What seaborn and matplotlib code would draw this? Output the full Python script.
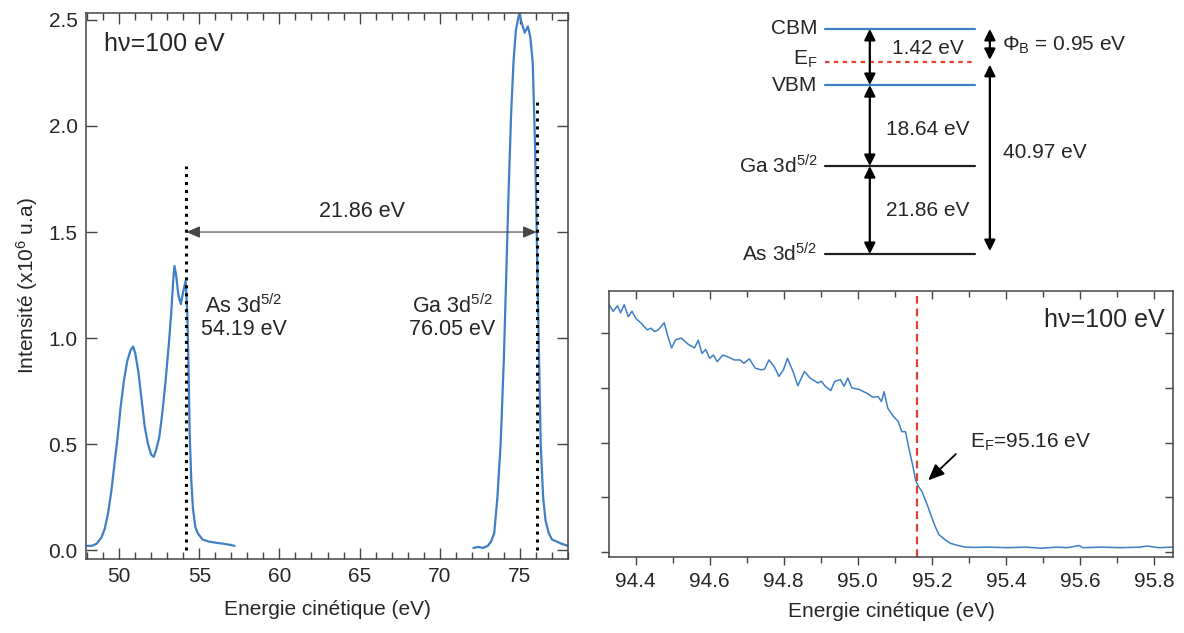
import matplotlib
matplotlib.use("Agg")
import matplotlib.pyplot as plt
from matplotlib.ticker import MultipleLocator, NullFormatter, FormatStrFormatter
import seaborn as sns

# --- data ---
# As 3d core level (left panel)
as_energy = [48.0, 48.3, 48.6, 48.9, 49.1, 49.3, 49.5, 49.7, 49.9, 50.1, 50.3, 50.5,
             50.7, 50.87, 51.0, 51.2, 51.4, 51.6, 51.8, 52.0, 52.16, 52.3, 52.5, 52.7,
             52.9, 53.1, 53.25, 53.38, 53.45, 53.55, 53.7, 53.85, 54.0, 54.15, 54.25,
             54.32, 54.4, 54.5, 54.6, 54.75, 54.9, 55.2, 55.6, 56.0, 56.5, 56.9, 57.2]
as_intensity = [0.02, 0.02, 0.03, 0.06, 0.10, 0.17, 0.27, 0.40, 0.53, 0.68, 0.80, 0.89,
                0.94, 0.96, 0.93, 0.84, 0.71, 0.58, 0.50, 0.45, 0.44, 0.47, 0.53, 0.65,
                0.80, 0.97, 1.12, 1.28, 1.34, 1.30, 1.20, 1.16, 1.22, 1.27, 1.12,
                0.90, 0.55, 0.33, 0.20, 0.11, 0.08, 0.05, 0.04, 0.035, 0.03, 0.025, 0.02]

# Ga 3d core level (left panel)
ga_energy = [72.1, 72.4, 72.7, 73.0, 73.2, 73.4, 73.6, 73.8, 74.0, 74.15, 74.3, 74.45,
             74.6, 74.75, 74.9, 74.97, 75.1, 75.3, 75.5, 75.65, 75.8, 75.95, 76.07,
             76.17, 76.3, 76.45, 76.6, 76.8, 77.0, 77.3, 77.6, 78.0]
ga_intensity = [0.01, 0.015, 0.01, 0.02, 0.04, 0.08, 0.25, 0.50, 0.90, 1.30, 1.70, 2.05,
                2.30, 2.45, 2.51, 2.53, 2.49, 2.44, 2.47, 2.42, 2.30, 1.90, 1.42,
                1.00, 0.50, 0.25, 0.14, 0.08, 0.05, 0.04, 0.03, 0.02]

as_peak = 54.19
ga_peak = 76.05
core_split = 21.86

# Fermi edge (bottom right panel), arbitrary units
fermi_energy = [94.328, 94.339, 94.351, 94.359, 94.369, 94.380, 94.390, 94.400, 94.415,
                94.431, 94.441, 94.451, 94.461, 94.477, 94.487, 94.497, 94.508, 94.523,
                94.533, 94.543, 94.559, 94.569, 94.579, 94.589, 94.600, 94.610, 94.620,
                94.636, 94.651, 94.666, 94.682, 94.692, 94.707, 94.723, 94.738, 94.748,
                94.760, 94.774, 94.787, 94.799, 94.810, 94.825, 94.838, 94.856, 94.871,
                94.892, 94.902, 94.912, 94.927, 94.938, 94.953, 94.963, 94.973, 94.984,
                95.004, 95.025, 95.040, 95.055, 95.064, 95.071, 95.081, 95.096, 95.109,
                95.119, 95.129, 95.137, 95.148, 95.156, 95.163, 95.173, 95.188, 95.199,
                95.209, 95.219, 95.235, 95.250, 95.270, 95.291, 95.311, 95.352, 95.404,
                95.455, 95.496, 95.537, 95.567, 95.598, 95.608, 95.660, 95.711, 95.762,
                95.782, 95.813, 95.850]
fermi_intensity = [4.52, 4.40, 4.50, 4.37, 4.52, 4.30, 4.40, 4.27, 4.18,
                   4.06, 4.09, 4.03, 4.06, 4.19, 3.94, 3.73, 3.88, 3.91,
                   3.85, 3.79, 3.73, 3.87, 3.63, 3.70, 3.54, 3.60, 3.48,
                   3.60, 3.56, 3.51, 3.51, 3.45, 3.53, 3.36, 3.33, 3.34,
                   3.51, 3.39, 3.21, 3.33, 3.54, 3.30, 3.04, 3.30, 3.18,
                   3.09, 3.12, 3.03, 2.95, 3.12, 3.15, 3.03, 3.18, 3.00,
                   2.97, 2.90, 2.83, 2.84, 2.75, 2.93, 2.63, 2.48, 2.39,
                   2.20, 2.20, 1.93, 1.60, 1.32, 1.21, 1.11, 0.86, 0.65,
                   0.47, 0.32, 0.23, 0.16, 0.12, 0.09, 0.085, 0.09, 0.08,
                   0.09, 0.07, 0.09, 0.08, 0.12, 0.08, 0.09, 0.08, 0.09,
                   0.11, 0.08, 0.09]
fermi_level = 95.16

# band diagram
levels = ["CBM", "E$_\\mathregular{F}$", "VBM", "Ga 3d$^{\\mathregular{5/2}}$", "As 3d$^{\\mathregular{5/2}}$"]
gap_labels = ["1.42 eV", "18.64 eV", "21.86 eV"]
barrier_label = "Φ$_\\mathregular{B}$ = 0.95 eV"
total_label = "40.97 eV"

# --- style ---
sns.set_style("ticks")
plt.rcParams["font.family"] = ["Liberation Sans", "DejaVu Sans"]
plt.rcParams["mathtext.fontset"] = "custom"
plt.rcParams["mathtext.rm"] = "Liberation Sans"
plt.rcParams["mathtext.it"] = "Liberation Sans:italic"
plt.rcParams["axes.edgecolor"] = "#444444"
plt.rcParams["axes.linewidth"] = 1.1

blue = "#3f7fc6"
red = "#e2402c"
fs = 15

fig = plt.figure(figsize=(11.84, 6.33), dpi=100)

# ---------------- left panel ----------------
ax = fig.add_axes([0.0726, 0.1169, 0.4071, 0.8626])
sns.lineplot(x=as_energy, y=as_intensity, ax=ax, color=blue, lw=1.6,
             estimator=None, sort=False)
sns.lineplot(x=ga_energy, y=ga_intensity, ax=ax, color=blue, lw=1.6,
             estimator=None, sort=False)
ax.plot([as_peak, as_peak], [0, 1.81], color="black", lw=2.2, ls=(0, (1, 1.6)))
ax.plot([ga_peak, ga_peak], [0, 2.13], color="black", lw=2.2, ls=(0, (1, 1.6)))
ax.annotate("", xy=(as_peak, 1.5), xytext=(ga_peak, 1.5),
            arrowprops=dict(arrowstyle="<|-|>,head_length=0.7,head_width=0.3",
                            color="#444444", lw=0.8, shrinkA=0, shrinkB=0,
                            mutation_scale=12))
ax.text((as_peak + ga_peak) / 2, 1.545, f"{core_split:.2f} eV", ha="center",
        va="bottom", fontsize=fs + 0.5)
ax.text(57.8, 0.99, "As 3d$^{\\mathregular{5/2}}$\n" + f"{as_peak:.2f} eV",
        ha="center", va="bottom", fontsize=fs + 0.5, linespacing=1.1)
ax.text(70.8, 0.99, "Ga 3d$^{\\mathregular{5/2}}$\n" + f"{ga_peak:.2f} eV",
        ha="center", va="bottom", fontsize=fs + 0.5, linespacing=1.1)
ax.text(49.05, 2.385, "hν=100 eV", ha="left", va="center", fontsize=18)

ax.set_xlim(47.93, 78.0)
ax.set_ylim(-0.042, 2.533)
ax.xaxis.set_major_locator(MultipleLocator(5))
ax.xaxis.set_minor_locator(MultipleLocator(1))
ax.yaxis.set_major_locator(MultipleLocator(0.5))
ax.yaxis.set_major_formatter(FormatStrFormatter("%.1f"))
ax.tick_params(which="both", direction="in", top=True, right=True,
               labelsize=fs, color="#444444", pad=6)
ax.tick_params(which="major", length=8, width=1)
ax.tick_params(which="minor", length=5, width=1)
ax.set_xlabel("Energie cinétique (eV)", fontsize=fs, labelpad=10)
ax.set_ylabel("Intensité (x10$^{\\mathregular{6}}$ u.a)", fontsize=fs, labelpad=6)

# ---------------- bottom right panel ----------------
bx = fig.add_axes([0.5144, 0.1201, 0.4764, 0.4202])
sns.lineplot(x=fermi_energy, y=fermi_intensity, ax=bx, color=blue, lw=1.1,
             estimator=None, sort=False)
bx.axvline(fermi_level, color=red, lw=1.6, ls=(0, (3.5, 2.2)))
bx.annotate("", xy=(95.19, 1.31), xytext=(95.265, 1.79),
            arrowprops=dict(arrowstyle="-|>,head_length=0.7,head_width=0.3",
                            color="black", lw=1.3, shrinkA=0, shrinkB=0,
                            mutation_scale=14))
bx.text(95.303, 2.0, "E$_\\mathregular{F}$=" + f"{fermi_level:.2f} eV",
        ha="left", va="center", fontsize=fs)
bx.text(95.83, 4.24, "hν=100 eV", ha="right", va="center", fontsize=18)
bx.set_xlim(94.328, 95.852)
bx.set_ylim(-0.09, 4.77)
bx.xaxis.set_major_locator(MultipleLocator(0.2))
bx.xaxis.set_minor_locator(MultipleLocator(0.1))
bx.xaxis.set_major_formatter(FormatStrFormatter("%.1f"))
bx.yaxis.set_major_locator(MultipleLocator(1))
bx.yaxis.set_major_formatter(NullFormatter())
bx.tick_params(which="both", direction="out", labelsize=fs, color="#444444", pad=5)
bx.tick_params(which="major", length=6, width=1)
bx.tick_params(which="minor", length=4, width=1)
bx.tick_params(which="both", axis="x", top=True)
bx.tick_params(which="both", axis="y", right=True)
# ticks on top and right point inward
for t in bx.xaxis.get_major_ticks() + bx.xaxis.get_minor_ticks():
    t.tick2line.set_marker(matplotlib.lines.TICKDOWN)
for t in bx.yaxis.get_major_ticks():
    t.tick2line.set_marker(matplotlib.lines.TICKLEFT)
bx.set_xlabel("Energie cinétique (eV)", fontsize=fs, labelpad=8)
bx.set_ylabel("")

# ---------------- band diagram ----------------
dx = fig.add_axes([690 / 1184, (633 - 270) / 633, 494 / 1184, 270 / 633])
dx.set_xlim(0, 1)
dx.set_ylim(0, 1)
dx.axis("off")

level_y = [0.893, 0.770, 0.685, 0.385, 0.059]
level_color = [blue, red, blue, "#222222", "#222222"]
level_style = ["-", (0, (2, 2)), "-", "-", "-"]
x0, x1 = 0.273, 0.577
for name, y, c, s in zip(levels, level_y, level_color, level_style):
    dx.plot([x0, x1], [y, y], color=c, ls=s, lw=1.6)
    dx.text(x0 - 0.015, y + (0.012 if c == red else 0.0), name,
            ha="right", va="center", fontsize=fs)

arrow = dict(arrowstyle="<|-|>,head_length=0.5,head_width=0.25", color="black",
             lw=1.6, shrinkA=0, shrinkB=0, mutation_scale=13)
xl = 0.364
gap_y = [0.822, 0.519, 0.222]
spans = [(level_y[0], level_y[2]), (level_y[2], level_y[3]), (level_y[3], level_y[4])]
for (ya, yb), lab, ty in zip(spans, gap_labels, gap_y):
    dx.annotate("", xy=(xl, yb), xytext=(xl, ya), arrowprops=arrow)
    dx.text(0.482, ty, lab, ha="center", va="center", fontsize=fs)

xr = 0.607
dx.annotate("", xy=(xr, 0.778), xytext=(xr, 0.893), arrowprops=arrow)
dx.annotate("", xy=(xr, 0.070), xytext=(xr, 0.760), arrowprops=arrow)
dx.text(0.632, 0.833, barrier_label, ha="left", va="center", fontsize=fs)
dx.text(0.634, 0.437, total_label, ha="left", va="center", fontsize=fs)

fig.savefig("out.png", dpi=100)
